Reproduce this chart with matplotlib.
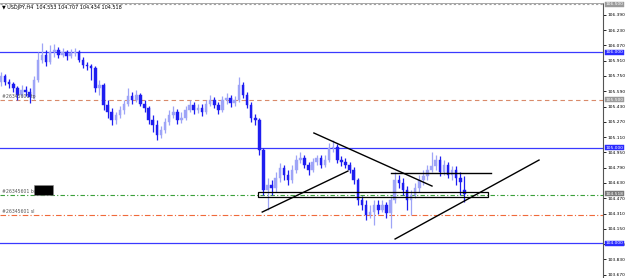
import matplotlib
matplotlib.use("Agg")
import matplotlib.pyplot as plt
from matplotlib.patches import Rectangle

# ---------------- data ----------------
opens = [105.686,105.749,105.686,105.665,105.623,105.550,105.603,105.582,105.529,105.707,
         105.916,105.969,105.895,106.000,106.021,105.969,106.000,105.958,105.990,106.000,
         105.916,105.864,105.854,105.833,105.623,105.655,105.446,105.372,105.289,105.341,
         105.393,105.456,105.540,105.498,105.550,105.456,105.414,105.289,105.237,105.132,
         105.184,105.268,105.341,105.372,105.289,105.310,105.393,105.446,105.393,105.414,
         105.372,105.456,105.498,105.446,105.393,105.498,105.519,105.467,105.498,105.655,
         105.550,105.446,105.310,105.289,104.975,104.556,104.609,104.577,104.682,104.787,
         104.714,104.661,104.766,104.870,104.891,104.818,104.766,104.849,104.891,104.818,
         104.870,104.996,105.006,104.870,104.849,104.818,104.766,104.661,104.452,104.400,
         104.295,104.326,104.400,104.347,104.400,104.316,104.452,104.661,104.630,104.556,
         104.452,104.504,104.577,104.661,104.703,104.766,104.808,104.870,104.745,104.818,
         104.714,104.766,104.682,104.553]
highs = [105.791,105.770,105.718,105.686,105.644,105.655,105.644,105.623,105.749,106.000,
         106.094,106.021,106.073,106.084,106.052,106.042,106.021,106.031,106.042,106.021,
         105.948,105.895,105.875,105.854,105.707,105.676,105.498,105.414,105.372,105.435,
         105.498,105.623,105.582,105.603,105.571,105.498,105.435,105.341,105.289,105.226,
         105.310,105.393,105.435,105.404,105.372,105.435,105.498,105.477,105.456,105.456,
         105.498,105.550,105.529,105.477,105.540,105.571,105.550,105.540,105.739,105.686,
         105.582,105.477,105.351,105.310,104.996,104.682,104.661,104.745,104.839,104.818,
         104.766,104.818,104.923,104.954,104.923,104.849,104.891,104.923,104.923,104.923,
         105.048,105.080,105.038,104.912,104.891,104.849,104.797,104.682,104.494,104.452,
         104.400,104.452,104.452,104.452,104.431,104.494,104.745,104.714,104.682,104.598,
         104.556,104.630,104.714,104.766,104.818,104.954,104.923,104.912,104.870,104.849,
         104.808,104.808,104.745,104.707]
lows = [105.644,105.655,105.623,105.582,105.498,105.529,105.540,105.467,105.508,105.686,
        105.885,105.854,105.874,105.948,105.937,105.948,105.916,105.937,105.958,105.895,
        105.833,105.812,105.707,105.582,105.550,105.393,105.310,105.237,105.247,105.310,
        105.351,105.435,105.456,105.477,105.435,105.372,105.247,105.163,105.080,105.100,
        105.153,105.237,105.310,105.247,105.258,105.289,105.372,105.351,105.362,105.331,
        105.351,105.435,105.414,105.351,105.372,105.456,105.425,105.435,105.477,105.519,
        105.414,105.268,105.237,104.923,104.504,104.347,104.504,104.536,104.640,104.661,
        104.609,104.630,104.735,104.839,104.787,104.714,104.745,104.818,104.787,104.797,
        104.849,104.954,104.839,104.808,104.787,104.735,104.619,104.400,104.347,104.243,
        104.264,104.190,104.306,104.326,104.264,104.159,104.421,104.577,104.504,104.347,
        104.295,104.473,104.536,104.609,104.661,104.745,104.766,104.703,104.714,104.682,
        104.661,104.609,104.504,104.434]
closes = [105.749,105.686,105.665,105.623,105.550,105.603,105.582,105.529,105.707,105.916,
          105.969,105.895,106.000,106.021,105.969,106.000,105.958,105.990,106.000,105.916,
          105.864,105.854,105.833,105.623,105.655,105.446,105.372,105.289,105.341,105.393,
          105.456,105.540,105.498,105.550,105.456,105.414,105.289,105.237,105.132,105.184,
          105.268,105.341,105.372,105.289,105.310,105.393,105.446,105.393,105.414,105.372,
          105.456,105.498,105.446,105.393,105.498,105.519,105.467,105.498,105.655,105.550,
          105.446,105.310,105.289,104.975,104.556,104.609,104.577,104.682,104.787,104.714,
          104.661,104.766,104.870,104.891,104.818,104.766,104.849,104.891,104.818,104.870,
          104.996,105.006,104.870,104.849,104.818,104.766,104.661,104.452,104.400,104.295,
          104.326,104.400,104.347,104.400,104.316,104.452,104.661,104.630,104.556,104.452,
          104.504,104.577,104.661,104.703,104.766,104.808,104.870,104.745,104.818,104.714,
          104.766,104.682,104.640,104.518]

symbol_header = "USDJPY,H4  104.553 104.707 104.434 104.518"
tick_values = [106.390,106.230,106.070,105.910,105.750,105.590,105.430,105.270,105.110,
               104.950,104.790,104.630,104.470,104.310,104.150,103.990,103.830,103.670]
blue_levels = [106.000, 105.000, 104.000]
gray_level = 106.500
tp_level, buy_level, sl_level = 105.500, 104.505, 104.295
order_labels = ["#26345601 tp", "#26345601 buy", "#26345601 sl"]
current_price = 104.518

# trendlines as (bar index, price) pairs
trend_lines = [
    [(63.7, 104.326), (84.6, 104.755)],
    [(76.3, 105.153), (105.1, 104.598)],
    [(95.1, 104.734), (119.5, 104.734)],
    [(96.1, 104.044), (131.2, 104.870)],
]
zone_x = (62.7, 118.8)
zone_y = (104.483, 104.536)

# ---------------- drawing ----------------
W, H = 625, 278
fig = plt.figure(figsize=(W/100, H/100), dpi=100)
fig.patch.set_facecolor("white")
ax = fig.add_axes([0, 0, 603/W, 1 - 3/H])
ax.set_facecolor("white")

bull_col = "#9ea4f7"
bear_col = "#1e1ef0"
bw = 0.62
for i, (o, h, l, c) in enumerate(zip(opens, highs, lows, closes)):
    col = bull_col if c >= o else bear_col
    ax.vlines(i, l, h, color=col, lw=0.9, zorder=3)
    lo, hi = min(o, c), max(o, c)
    ax.add_patch(Rectangle((i - bw/2, lo), bw, max(hi - lo, 0.004),
                           facecolor=col, edgecolor=col, lw=0.3, zorder=4))

for lv in blue_levels:
    ax.axhline(lv, color="#3a3aff", lw=0.9, zorder=2)
ax.axhline(gray_level, color="#a0a0a0", lw=0.8, ls=(0, (2, 2)), zorder=2)
ax.axhline(tp_level, color="#d98a6a", lw=0.8, ls=(0, (4, 3)), zorder=2)
ax.axhline(buy_level, color="#3aa03a", lw=0.8, ls=(0, (4, 2, 1, 2)), zorder=2)
ax.axhline(sl_level, color="#f06a3a", lw=0.8, ls=(0, (5, 2, 1, 2)), zorder=2)

for seg in trend_lines:
    xs, ys = zip(*seg)
    ax.plot(xs, ys, color="black", lw=1.0, zorder=5)
ax.add_patch(Rectangle((zone_x[0], zone_y[0]), zone_x[1] - zone_x[0], zone_y[1] - zone_y[0],
                       facecolor="none", edgecolor="black", lw=0.9, zorder=5))

ax.set_xlim(-0.244, 146.8)
ax.set_ylim(103.636, 106.513)

# order labels at left
ax.text(0.3, tp_level + 0.01, order_labels[0], fontsize=3.3, color="#555555",
        va="bottom", ha="left", zorder=6)
ax.text(0.3, buy_level + 0.01, order_labels[1], fontsize=3.3, color="#555555",
        va="bottom", ha="left", zorder=6)
ax.add_patch(Rectangle((8.0, buy_level), 4.6, 0.10, facecolor="black",
                       edgecolor="#888888", lw=0.4, zorder=6))
ax.text(0.3, sl_level + 0.01, order_labels[2], fontsize=3.3, color="#555555",
        va="bottom", ha="left", zorder=6)

# header
fig.text(2/W, 1 - 7/H, "\u25bc " + symbol_header, fontsize=3.5, color="black",
         va="center", ha="left")

# axes styling
ax.yaxis.tick_right()
ax.set_yticks(tick_values)
ax.set_yticklabels([f"{v:.3f}" for v in tick_values], fontsize=3.2)
ax.tick_params(axis="y", direction="out", length=2.5, width=0.6, pad=1.0, colors="black")
ax.set_xticks([])
for side in ["left", "bottom"]:
    ax.spines[side].set_visible(False)
ax.spines["right"].set_color("#555555")
ax.spines["right"].set_linewidth(0.8)
ax.spines["top"].set_color("#999999")
ax.spines["top"].set_linewidth(0.6)

# price boxes on axis
def price_box(val, fc, tc):
    ax.annotate(f"{val:.3f}", xy=(1.0, val), xycoords=("axes fraction", "data"),
                xytext=(1.6, 0), textcoords="offset points", fontsize=3.2, color=tc,
                va="center", ha="left", annotation_clip=False, zorder=10,
                bbox=dict(boxstyle="square,pad=0.12", fc=fc, ec=fc, lw=0.3))

price_box(gray_level, "#9a9a9a", "white")
price_box(tp_level, "#9a9a9a", "white")
price_box(current_price, "#7a7a7a", "white")
for lv in blue_levels:
    price_box(lv, "#2a2aff", "white")

fig.savefig("out.png", dpi=100, facecolor="white")
